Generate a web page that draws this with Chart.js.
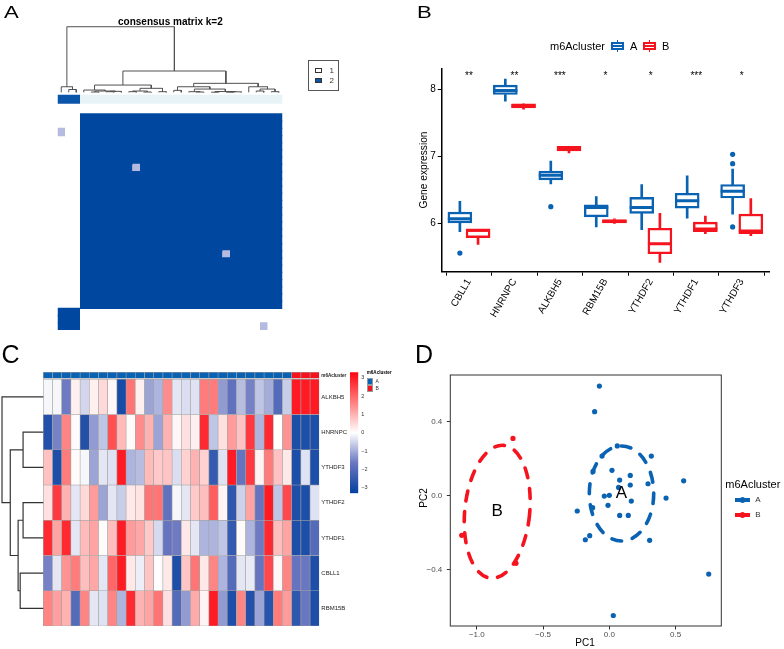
<!DOCTYPE html>
<html>
<head>
<meta charset="utf-8">
<title>m6A clusters</title>
<script src="https://cdn.jsdelivr.net/npm/chart.js@4.4.1/dist/chart.umd.min.js"></script>
<style>
  html, body { margin: 0; padding: 0; background: #fff; }
  body { position: relative; width: 784px; height: 649px; overflow: hidden;
         font-family: "Liberation Sans", Arial, Helvetica, sans-serif; }
  canvas, .txt, .sq { position: absolute; }
  .txt { white-space: nowrap; line-height: 1; color: #000; }
  .letter { font-size: 17px; transform: scaleX(1.3); transform-origin: left top; }
  .big { font-size: 25px; }
  .sq { box-sizing: border-box; }
</style>
</head>
<body>
<canvas id="chartA" width="392" height="335" style="left:0;top:0"></canvas>
<canvas id="chartB" width="392" height="330" style="left:392px;top:0"></canvas>
<canvas id="chartD" width="392" height="319" style="left:392px;top:330px"></canvas>
<div style="position:absolute;left:0;top:0;width:392px;height:649px;overflow:hidden">
  <canvas id="chartC" width="392" height="300" style="left:0;top:335px"></canvas>
  <canvas id="chartCbar" width="35" height="140" style="left:345px;top:362px"></canvas>
  <div class="txt" style="left:366.7px;top:370.8px;font-size:4.6px;font-weight:bold">m6Acluster</div>
  <div class="sq" id="keyCA" style="left:366.7px;top:378.3px;width:6.6px;height:6.6px;border:0.6px solid #999"></div>
  <div class="sq" id="keyCB" style="left:366.7px;top:385px;width:6.6px;height:6.6px;border:0.6px solid #999"></div>
  <div class="txt" style="left:375.5px;top:379.3px;font-size:5px;color:#333">A</div>
  <div class="txt" style="left:375.5px;top:386px;font-size:5px;color:#333">B</div>
</div>

<!-- panel letters and titles -->
<div class="txt letter" style="left:4px;top:4px">A</div>
<div class="txt letter" style="left:417px;top:4px">B</div>
<div class="txt big" style="left:1.5px;top:341.8px">C</div>
<div class="txt big" style="left:415px;top:341.8px">D</div>
<div class="txt" style="left:170.4px;top:17.4px;font-size:10px;font-weight:bold;transform:translateX(-50%)">consensus matrix k=2</div>

<!-- panel A legend -->
<div class="sq" style="left:307.7px;top:60.3px;width:31.3px;height:30.7px;border:1px solid #555"></div>
<div class="sq" style="left:315px;top:67.7px;width:7.3px;height:5.2px;border:1px solid #333;background:#fff"></div>
<div class="sq" id="keyA2" style="left:315px;top:78.3px;width:7.3px;height:5.2px;border:1px solid #333"></div>
<div class="txt" style="left:329.5px;top:67px;font-size:8px;color:#333">1</div>
<div class="txt" style="left:329.5px;top:77.3px;font-size:8px;color:#333">2</div>

<!-- panel B legend and axis title -->
<div class="txt" style="left:550px;top:40.6px;font-size:11px">m6Acluster</div>
<div id="keyBA" style="position:absolute;left:611px;top:40px;width:13.3px;height:12px"></div>
<div class="txt" style="left:630px;top:40.6px;font-size:11px">A</div>
<div id="keyBB" style="position:absolute;left:642.7px;top:40px;width:13.3px;height:12px"></div>
<div class="txt" style="left:662px;top:40.6px;font-size:11px">B</div>
<div class="txt" style="left:423.7px;top:170px;font-size:10.2px;transform:translate(-50%,-50%) rotate(-90deg)">Gene expression</div>

<!-- panel D legend and axis titles -->
<div class="txt" style="left:585px;top:638.1px;font-size:10px;transform:translateX(-50%)">PC1</div>
<div class="txt" style="left:424px;top:498px;font-size:10px;transform:translate(-50%,-50%) rotate(-90deg)">PC2</div>
<div class="txt" style="left:725.3px;top:478.6px;font-size:11px">m6Acluster</div>
<div id="keyDA" style="position:absolute;left:735.3px;top:495px;width:15px;height:10px"></div>
<div id="keyDB" style="position:absolute;left:735.3px;top:510px;width:15px;height:10px"></div>
<div class="txt" style="left:755.3px;top:496.1px;font-size:8px;color:#333">A</div>
<div class="txt" style="left:755.3px;top:511.1px;font-size:8px;color:#333">B</div>

<script>
// ---------- colours ----------
const BLUE = '#0a62b3';
const RED = '#f5141e';

// ---------- panel A: consensus matrix (k = 2) ----------
const sampleCluster = [2, 2, 2, 1, 1, 1, 1, 1, 1, 1, 1, 1, 1, 1, 1, 1, 1, 1, 1, 1, 1, 1, 1, 1, 1, 1, 1, 1, 1, 1];
// sample pairs whose consensus is neither 0 nor 1
const weakPairs = [[0, 27, 0.3], [10, 22, 0.3]];
// sample dendrogram: [left, right, height], leaves are sample indices
const sampleTree = [
  [0, [1, 2, 0.043], 0.085],
  [
    [
      [3, [[4, 5, 0.005], [[6, 7, 0.01], 8, 0.015], 0.02], 0.035],
      [[[9, 10, 0.01], [11, 12, 0.005], 0.02], [13, 14, 0.01], 0.061],
      0.111
    ],
    [
      [[15, 16, 0.03], [[17, [18, 19, 0.005], 0.01], [[20, 21, 0.002], [[22, 23, 0.003], 24, 0.008], 0.012], 0.05], 0.085],
      [25, [[26, 27, 0.02], [28, 29, 0.01], 0.05], 0.085],
      0.137
    ],
    0.325
  ],
  1
];

// ---------- panel B: expression by cluster ----------
const genes = ['CBLL1', 'HNRNPC', 'ALKBH5', 'RBM15B', 'YTHDF2', 'YTHDF1', 'YTHDF3'];
const aMin = [5.88, 7.82, 6.59, 5.95, 5.91, 6.08, 6.14];
const aQ1  = [6.01, 7.92, 6.65, 6.10, 6.15, 6.23, 6.38];
const aMed = [6.07, 7.98, 6.72, 6.24, 6.24, 6.34, 6.48];
const aQ3  = [6.17, 8.06, 6.78, 6.28, 6.39, 6.45, 6.58];
const aMax = [6.33, 8.15, 6.93, 6.40, 6.58, 6.71, 6.81];
const aOutliers = [[0, 5.56], [2, 6.25], [6, 7.03], [6, 6.89], [6, 5.95]];
const bMin = [5.69, 7.70, 7.05, 6.00, 5.42, 5.85, 5.82];
const bQ1  = [5.79, 7.72, 7.08, 6.01, 5.55, 5.88, 5.85];
const bMed = [5.90, 7.75, 7.11, 6.03, 5.70, 5.92, 5.89];
const bQ3  = [5.91, 7.78, 7.15, 6.06, 5.93, 6.02, 6.14];
const bMax = [5.91, 7.78, 7.15, 6.07, 6.15, 6.11, 6.37];
const bOutliers = [];
const stars = ['**', '**', '***', '*', '*', '***', '*'];
const yTicksB = [6, 7, 8];

// ---------- panel C: heatmap (row z-scores) ----------
const rowNames = ['ALKBH5', 'HNRNPC', 'YTHDF3', 'YTHDF2', 'YTHDF1', 'CBLL1', 'RBM15B'];
const sampleGroup = ['A','A','A','A','A','A','A','A','A','A','A','A','A','A','A','A','A','A','A','A','A','A','A','A','A','A','A','B','B','B'];
const zALKBH5 = [-0.1, -0.1, -1.6, 0.2, -0.5, 0.2, 0.5, 0.1, -3.0, 1.8, 0.2, -1.1, -0.9, 1.5, -0.3, -0.4, -0.35, 1.7, 1.7, -1.2, -1.8, -0.8, -1.5, -0.7, -1.0, -2.0, -0.6, 3.0, 3.0, 3.0];
const zHNRNPC = [-2.8, -1.5, 1.6, 0.05, -2.8, -1.2, -0.7, 2.3, 0.9, 0.05, 1.5, 1.0, -1.1, 1.0, 0.1, 0.4, 0.2, 2.8, -0.7, 0.4, 1.3, 0.8, 2.6, -0.9, 2.8, 0.0, 1.4, -2.9, -2.9, -2.9];
const zYTHDF3 = [0.8, -2.9, 1.7, 0.05, -0.1, -1.1, -0.3, -0.35, 3.0, -0.9, -0.8, 0.9, 0.7, 0.75, -0.4, 0.6, 1.0, 0.6, -2.5, -0.35, 3.0, -1.7, 2.6, 0.15, 1.7, 0.8, 0.3, -2.9, -0.35, -2.9];
const zYTHDF2 = [0.4, 2.6, 1.0, -0.3, 0.5, 1.3, -1.1, -0.3, -0.6, 0.3, 0.35, 1.8, 1.8, -1.8, -0.1, -0.3, 0.7, 0.85, 2.1, 0.15, -2.6, -0.55, 1.2, -1.7, 3.0, -0.7, 2.4, -2.9, -2.9, -0.35];
const zYTHDF1 = [2.8, 1.2, 2.8, -0.3, 0.9, 1.2, 0.05, 0.85, 3.0, 1.3, 1.15, 0.7, -0.45, -1.7, -1.6, 0.3, -0.3, -0.9, -0.9, -0.7, -2.5, 0.05, -0.9, -1.6, 2.8, 0.85, 1.2, -2.9, -2.9, -2.0];
const zCBLL1 = [-1.5, -0.3, 1.4, 1.7, 0.85, 1.15, -0.3, 2.0, 3.0, 0.3, -0.2, 0.75, 0.02, 0.3, -2.9, 0.75, 1.8, 0.3, 1.6, -0.9, -2.0, -0.3, -0.25, -1.7, 2.4, 0.1, 1.6, -1.7, -1.65, -2.9];
const zRBM15B = [1.6, 1.25, 1.0, -2.0, 1.6, -0.3, -0.35, 1.6, -0.9, 2.8, 1.0, 1.2, 1.8, 0.4, -2.0, -1.2, 1.1, 0.15, 3.0, -1.2, -2.9, 1.6, -2.8, -1.1, -2.7, 1.7, 1.3, -2.6, -1.65, -2.9];
const heatRows = [zALKBH5, zHNRNPC, zYTHDF3, zYTHDF2, zYTHDF1, zCBLL1, zRBM15B];
// gene dendrogram: [left, right, height], leaves are row indices
const geneTree = [0, [[1, 2, 0.49], [[3, 4, 0.49], [5, 6, 0.56], 0.61], 0.80], 1];
const colourBarTicks = [-3, -2, -1, 0, 1, 2, 3];

// ---------- panel D: PCA ----------
const pcA_x = [-0.075, -0.111, 0.060, 0.317, -0.055, -0.123, 0.020, 0.158, 0.078, 0.158, 0.070, 0.292, 0.561, -0.038, 0.0, -0.010, 0.166, 0.428, -0.242, -0.126, 0.078, 0.143, -0.148, -0.181, 0.304, 0.750, 0.030];
const pcA_y = [0.595, 0.456, 0.270, 0.215, 0.215, 0.132, 0.138, 0.110, 0.085, 0.058, 0.045, 0.065, 0.081, -0.002, 0.002, -0.052, -0.029, -0.013, -0.083, -0.065, -0.107, -0.107, -0.217, -0.239, -0.242, -0.425, -0.650];
const pcB_x = [-0.727, -1.114, -0.704];
const pcB_y = [0.311, -0.215, -0.367];
const ellipseCX = [0.092, -0.846];
const ellipseCY = [0.012, -0.087];
const ellipseRX = [0.243, 0.245];
const ellipseRY = [0.258, 0.362];
const ellipseTilt = [0, 5.7];
const groupLabels = ['A', 'B'];
const xTicksD = [-1.0, -0.5, 0.0, 0.5];
const yTicksD = [-0.4, 0.0, 0.4];

// ---------- helpers ----------
Chart.defaults.font.family = '"Liberation Sans", Arial, Helvetica, sans-serif';
Chart.defaults.animation = false;
Chart.defaults.responsive = false;
Chart.defaults.events = [];
Chart.defaults.plugins.legend.display = false;
Chart.defaults.plugins.tooltip.enabled = false;

const consensusStops = [[0, [255, 255, 255]], [0.3, [181, 186, 224]], [1, [0, 71, 160]]];
const heatStops = [[-3.3, [5, 65, 160]], [-1.65, [105, 118, 192]], [0, [255, 255, 255]], [1.65, [255, 128, 128]], [3.3, [255, 5, 15]]];
const clusterColours = { 1: '#e8f3f8', 2: '#0a55aa' };
const groupColours = { A: BLUE, B: RED };

function rgbStr(c) { return 'rgb(' + c.map(Math.round).join(',') + ')'; }
function rampColour(stops, v) {
  if (v <= stops[0][0]) return rgbStr(stops[0][1]);
  for (let i = 1; i < stops.length; i++) {
    const [v1, c1] = stops[i];
    if (v <= v1) {
      const [v0, c0] = stops[i - 1];
      const t = (v - v0) / (v1 - v0);
      return rgbStr(c0.map((c, k) => c + (c1[k] - c) * t));
    }
  }
  return rgbStr(stops[stops.length - 1][1]);
}

// walk a [left, right, height] tree and return line points (null = pen up)
function dendroPoints(tree, place) {
  const pts = [];
  (function walk(node) {
    if (typeof node === 'number') return { pos: node + 0.5, h: 0 };
    const a = walk(node[0]), b = walk(node[1]), h = node[2];
    pts.push(place(a.pos, a.h), place(a.pos, h), place(b.pos, h), place(b.pos, b.h), { x: null, y: null });
    return { pos: (a.pos + b.pos) / 2, h };
  })(tree);
  return pts;
}

// split a row of values into runs of equal value: [[start, end, value], ...]
function runsOf(values) {
  const runs = [];
  let c0 = 0;
  for (let c = 1; c <= values.length; c++) {
    if (c === values.length || values[c] !== values[c0]) {
      runs.push([c0, c, values[c0]]);
      c0 = c;
    }
  }
  return runs;
}

function intTicks(lo, hi) {
  return s => { s.ticks = []; for (let v = lo; v <= hi; v++) s.ticks.push({ value: v }); };
}

function consensus(i, j) {
  for (const [a, b, v] of weakPairs) {
    if ((a === i && b === j) || (a === j && b === i)) return v;
  }
  return sampleCluster[i] === sampleCluster[j] ? 1 : 0;
}

const minus = v => (v < 0 ? '\u2212' : '') + Math.abs(v);

// ---------- panel A ----------
// each matrix row is drawn as runs of equal consensus (horizontal floating bars);
// rows are drawn a little thicker than their pitch so neighbouring rows overlap
const nA = sampleCluster.length;
const aCols = sampleCluster.map((_, i) => i);
const matrixBars = [];
const matrixColours = [];
for (let r = 0; r < nA; r++) {
  const s = nA - 1 - r;   // rows run in reverse sample order
  runsOf(aCols.map(c => consensus(c, s))).forEach(([c0, c1, v]) => {
    if (v > 0) {
      matrixBars.push({ y: r + 0.5, x: [c0, c1] });
      matrixColours.push(rampColour(consensusStops, v));
    }
  });
}
const clusterRuns = runsOf(sampleCluster);

new Chart(document.getElementById('chartA'), {
  type: 'bar',
  data: {
    datasets: [
      {
        type: 'line',
        data: dendroPoints(sampleTree, (pos, h) => ({ x: pos, y: -3.01 - h * 9.11 })),
        borderColor: '#505050', borderWidth: 1, pointRadius: 0, tension: 0, order: 0
      },
      {
        indexAxis: 'y',
        data: clusterRuns.map(([c0, c1]) => ({ y: -2.05, x: [c0, c1] })),
        backgroundColor: clusterRuns.map(run => clusterColours[run[2]]),
        barThickness: 9, order: 1
      },
      { indexAxis: 'y', data: matrixBars, backgroundColor: matrixColours, barThickness: 8.5, order: 2 }
    ]
  },
  options: {
    layout: { padding: { left: 57.5, right: 109.5, top: 24, bottom: 5 } },
    datasets: { bar: { grouped: false, borderWidth: 0, inflateAmount: 0 } },
    scales: {
      x: { type: 'linear', min: 0, max: 30, offset: false, display: false, afterBuildTicks: intTicks(0, 30) },
      y: { type: 'linear', min: -12.5, max: 30, reverse: true, offset: false, display: false }
    }
  }
});
document.getElementById('keyA2').style.background = clusterColours[2];

// ---------- panel B ----------
const dodge = 0.2;
function boxSets(colour, shift, mins, q1s, meds, q3s, maxs, outs) {
  const at = i => i + shift;
  return [
    { data: genes.map((g, i) => ({ x: at(i), y: [mins[i], q1s[i]] })), backgroundColor: colour, barThickness: 2, order: 3 },
    { data: genes.map((g, i) => ({ x: at(i), y: [q3s[i], maxs[i]] })), backgroundColor: colour, barThickness: 2, order: 3 },
    {
      data: genes.map((g, i) => ({ x: at(i), y: [q1s[i], q3s[i]] })),
      backgroundColor: '#ffffff', borderColor: colour, borderWidth: 2.4, borderSkipped: false,
      barThickness: 24, order: 2
    },
    {
      type: 'line', data: genes.map((g, i) => ({ x: at(i), y: meds[i] })), showLine: false,
      pointStyle: 'line', pointRadius: 12, pointBorderWidth: 3, pointBorderColor: colour, order: 1
    },
    {
      type: 'line', data: outs.map(([i, v]) => ({ x: at(i), y: v })), showLine: false,
      pointRadius: 2.6, pointBackgroundColor: colour, pointBorderWidth: 0, order: 1
    }
  ];
}

const starLevel = 8.19;
const starPlugin = {
  id: 'stars',
  afterDatasetsDraw(chart) {
    const { ctx, scales: { x, y } } = chart;
    ctx.save();
    ctx.font = '10px "Liberation Sans", Arial, sans-serif';
    ctx.fillStyle = '#000';
    ctx.textAlign = 'center';
    ctx.textBaseline = 'middle';
    stars.forEach((s, i) => ctx.fillText(s, x.getPixelForValue(i), y.getPixelForValue(starLevel)));
    ctx.restore();
  }
};

new Chart(document.getElementById('chartB'), {
  type: 'bar',
  data: {
    datasets: [
      ...boxSets(BLUE, -dodge, aMin, aQ1, aMed, aQ3, aMax, aOutliers),
      ...boxSets(RED, dodge, bMin, bQ1, bMed, bQ3, bMax, bOutliers)
    ]
  },
  options: {
    layout: { padding: { left: 20, top: 68.3, right: 4, bottom: 0 } },
    datasets: { bar: { grouped: false } },
    scales: {
      x: {
        type: 'linear', min: -0.6, max: 6.6, offset: false,
        afterBuildTicks: s => { s.ticks = genes.map((g, i) => ({ value: i })); },
        afterFit: s => { s.height = 58.3; },
        grid: { drawOnChartArea: false, tickLength: 4, color: '#000' },
        border: { color: '#000', width: 1.5 },
        ticks: { autoSkip: false, minRotation: 60, maxRotation: 60, padding: 1, color: '#000', font: { size: 10 }, callback: v => genes[v] }
      },
      y: {
        type: 'linear', min: 5.283, max: 8.31,
        afterBuildTicks: s => { s.ticks = yTicksB.map(v => ({ value: v })); },
        afterFit: s => { s.width = 29.7; },
        grid: { drawOnChartArea: false, tickLength: 4, color: '#000' },
        border: { color: '#000', width: 1.5 },
        ticks: { padding: 2, color: '#000', font: { size: 10 } }
      }
    }
  },
  plugins: [starPlugin]
});

function boxKey(el, colour) {
  el.innerHTML =
    '<div style="position:absolute;left:5.9px;top:0;width:1.5px;height:12px;background:' + colour + '"></div>' +
    '<div style="position:absolute;left:0;top:2px;width:13.3px;height:8.3px;box-sizing:border-box;border:2px solid ' + colour + ';background:#fff"></div>' +
    '<div style="position:absolute;left:0;top:5.2px;width:13.3px;height:2px;background:' + colour + '"></div>';
}
boxKey(document.getElementById('keyBA'), BLUE);
boxKey(document.getElementById('keyBB'), RED);

// ---------- panel C ----------
const cCols = sampleGroup.map((_, i) => i);
const heatSets = heatRows.map((vals, r) => ({
  data: cCols.map(c => ({ x: c + 0.5, y: [r, r + 1] })),
  backgroundColor: vals.map(v => rampColour(heatStops, v)),
  order: 2
}));

new Chart(document.getElementById('chartC'), {
  type: 'bar',
  data: {
    datasets: [
      {
        type: 'line',
        data: dendroPoints(geneTree, (pos, h) => ({ x: -h * 4.49, y: pos })),
        borderColor: '#333', borderWidth: 1.2, pointRadius: 0, tension: 0, order: 0
      },
      {
        data: cCols.map(c => ({ x: c + 0.5, y: [-0.199, -0.028] })),
        backgroundColor: sampleGroup.map(g => groupColours[g]),
        order: 1
      },
      ...heatSets
    ]
  },
  options: {
    layout: { padding: { left: 1, right: 32.7, top: 36.9, bottom: 9 } },
    datasets: {
      bar: {
        grouped: false, barPercentage: 1, categoryPercentage: 1,
        borderWidth: 0.6, borderColor: '#a3a3a3', borderSkipped: false
      }
    },
    scales: {
      x: { type: 'linear', min: -4.6, max: 30, offset: false, display: false, afterBuildTicks: intTicks(-4, 30) },
      y: {
        type: 'linear', min: -0.21, max: 7, reverse: true, position: 'right',
        afterBuildTicks: s => { s.ticks = [{ value: -0.11 }].concat(rowNames.map((n, i) => ({ value: i + 0.5 }))); },
        afterFit: s => { s.width = 40; },
        grid: { display: false, drawTicks: false },
        border: { display: false },
        ticks: {
          padding: 2, color: '#222',
          font: ctx => (ctx.tick && ctx.tick.value < 0 ? { size: 4.6, weight: 'bold' } : { size: 6 }),
          callback: v => (v < 0 ? 'm6Acluster' : rowNames[Math.floor(v)])
        }
      }
    }
  }
});
document.getElementById('keyCA').style.background = groupColours.A;
document.getElementById('keyCB').style.background = groupColours.B;

// colour key of panel C
const heatLo = heatStops[0][0], heatHi = heatStops[heatStops.length - 1][0];
new Chart(document.getElementById('chartCbar'), {
  type: 'bar',
  data: {
    labels: [''],
    datasets: [{
      data: [[heatLo, heatHi]],
      barPercentage: 1, categoryPercentage: 1, borderWidth: 0,
      backgroundColor: ctx => {
        const ch = ctx.chart;
        if (!ch.chartArea) return '#ccc';
        const y = ch.scales.y;
        const g = ch.ctx.createLinearGradient(0, y.getPixelForValue(heatLo), 0, y.getPixelForValue(heatHi));
        heatStops.forEach(([v, c]) => g.addColorStop((v - heatLo) / (heatHi - heatLo), rgbStr(c)));
        return g;
      }
    }]
  },
  options: {
    layout: { padding: { left: 5, right: 9.7, top: 10.3, bottom: 8.7 } },
    scales: {
      x: { display: false },
      y: {
        type: 'linear', min: heatLo, max: heatHi, position: 'right',
        afterBuildTicks: s => { s.ticks = colourBarTicks.map(v => ({ value: v })); },
        afterFit: s => { s.width = 12; },
        grid: { display: false, drawTicks: false },
        border: { display: false },
        ticks: { padding: 3, color: '#333', font: { size: 5.5 }, callback: v => minus(v) }
      }
    }
  }
});

// ---------- panel D ----------
const framePlugin = {
  id: 'frame',
  afterDatasetsDraw(chart) {
    const { ctx, chartArea: a } = chart;
    ctx.save();
    ctx.strokeStyle = '#333';
    ctx.lineWidth = 1;
    ctx.strokeRect(a.left, a.top, a.right - a.left, a.bottom - a.top);
    ctx.restore();
  }
};
const ellipsePlugin = {
  id: 'ellipses',
  beforeDatasetsDraw(chart) {
    const { ctx, scales: { x, y } } = chart;
    ctx.save();
    ellipseCX.forEach((cx, i) => {
      const px = x.getPixelForValue(cx), py = y.getPixelForValue(ellipseCY[i]);
      const rx = Math.abs(x.getPixelForValue(cx + ellipseRX[i]) - px);
      const ry = Math.abs(y.getPixelForValue(ellipseCY[i] + ellipseRY[i]) - py);
      ctx.beginPath();
      ctx.ellipse(px, py, rx, ry, ellipseTilt[i] * Math.PI / 180, 0, 2 * Math.PI);
      ctx.setLineDash([10, 11]);
      ctx.lineCap = 'round';
      ctx.lineWidth = 3.6;
      ctx.strokeStyle = groupColours[groupLabels[i]];
      ctx.stroke();
    });
    ctx.restore();
  }
};
const labelPlugin = {
  id: 'groupLabels',
  afterDatasetsDraw(chart) {
    const { ctx, scales: { x, y } } = chart;
    ctx.save();
    ctx.font = '17px "Liberation Sans", Arial, sans-serif';
    ctx.fillStyle = '#000';
    ctx.textAlign = 'center';
    ctx.textBaseline = 'middle';
    groupLabels.forEach((g, i) => ctx.fillText(g, x.getPixelForValue(ellipseCX[i]), y.getPixelForValue(ellipseCY[i])));
    ctx.restore();
  }
};

new Chart(document.getElementById('chartD'), {
  type: 'scatter',
  data: {
    datasets: [
      { data: pcA_x.map((x, i) => ({ x, y: pcA_y[i] })), backgroundColor: BLUE, pointRadius: 2.6, pointBorderWidth: 0 },
      { data: pcB_x.map((x, i) => ({ x, y: pcB_y[i] })), backgroundColor: RED, pointRadius: 2.6, pointBorderWidth: 0 }
    ]
  },
  options: {
    layout: { padding: { left: 28.3, right: 62.7, top: 45, bottom: 0 } },
    scales: {
      x: {
        type: 'linear', min: -1.2, max: 0.845,
        afterBuildTicks: s => { s.ticks = xTicksD.map(v => ({ value: v })); },
        afterFit: s => { s.height = 23; },
        grid: { drawOnChartArea: false, tickLength: 3.5, color: '#333' },
        border: { display: false },
        ticks: { padding: 0.5, color: '#4d4d4d', font: { size: 8 }, callback: v => (v < 0 ? '\u2212' : '') + Math.abs(v).toFixed(1) }
      },
      y: {
        type: 'linear', min: -0.707, max: 0.655,
        afterBuildTicks: s => { s.ticks = yTicksD.map(v => ({ value: v })); },
        afterFit: s => { s.width = 30; },
        grid: { drawOnChartArea: false, tickLength: 3.5, color: '#333' },
        border: { display: false },
        ticks: { padding: 4.5, color: '#4d4d4d', font: { size: 8 }, callback: v => (v < 0 ? '\u2212' : '') + Math.abs(v).toFixed(1) }
      }
    }
  },
  plugins: [ellipsePlugin, framePlugin, labelPlugin]
});

function lineKey(el, colour) {
  el.innerHTML =
    '<div style="position:absolute;left:0;top:3.3px;width:15px;height:3.5px;background:' + colour + '"></div>' +
    '<div style="position:absolute;left:4.9px;top:2.4px;width:5.2px;height:5.2px;border-radius:50%;background:' + colour + '"></div>';
}
lineKey(document.getElementById('keyDA'), BLUE);
lineKey(document.getElementById('keyDB'), RED);
</script>
</body>
</html>
